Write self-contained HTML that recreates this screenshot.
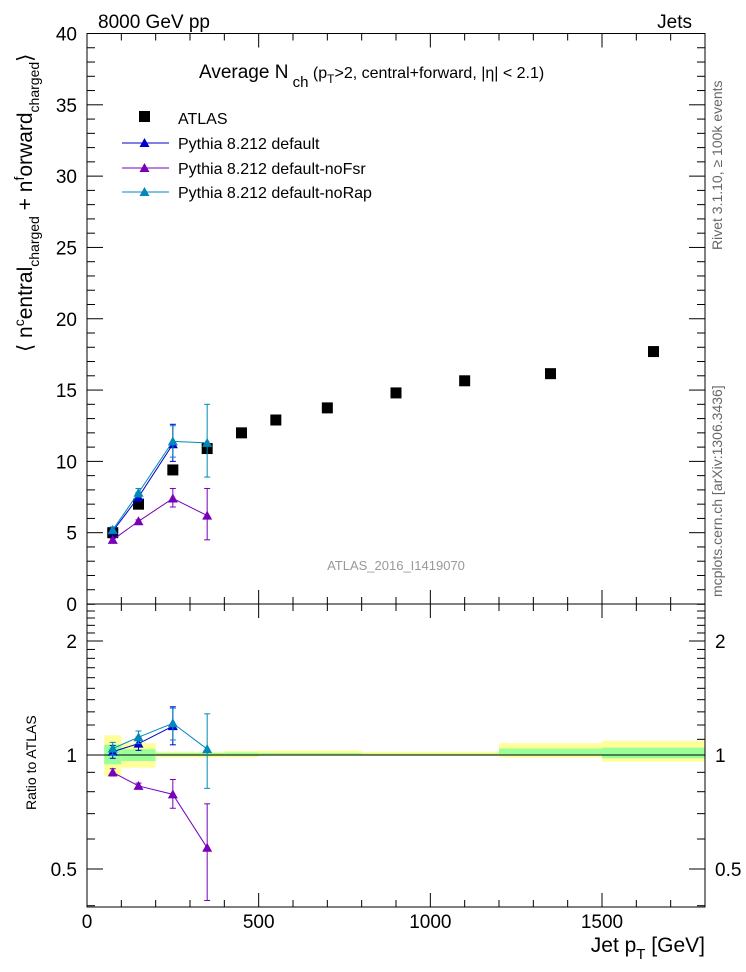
<!DOCTYPE html>
<html><head><meta charset="utf-8"><style>
body{margin:0;background:#fff}
svg{display:block;font-family:"Liberation Sans",sans-serif}
</style></head><body>
<svg id="c" width="746" height="972" viewBox="0 0 746 972">
<defs><clipPath id="cr"><rect x="87" y="604" width="618" height="303"/></clipPath></defs>
<g id="bands" clip-path="url(#cr)"></g>
<g id="grid"></g>
<g id="marks"></g>
<rect x="87" y="33.5" width="618" height="570.5" fill="none" stroke="#000" stroke-width="1"/>
<rect x="87" y="604" width="618" height="303" fill="none" stroke="#000" stroke-width="1"/>
<text x="98" y="28" font-size="19">8000 GeV pp</text>
<text x="692" y="28" font-size="19" text-anchor="end">Jets</text>
<text x="199" y="78" font-size="19">Average N<tspan font-size="15" dy="9"> ch</tspan><tspan font-size="16" dy="-9"> (p</tspan><tspan font-size="12" dy="5">T</tspan><tspan font-size="16" dy="-5">&gt;2, central+forward, |η| &lt; 2.1)</tspan></text>
<text x="396" y="570" font-size="13" fill="#999" text-anchor="middle">ATLAS_2016_I1419070</text>
<text transform="translate(722,250) rotate(-90)" font-size="14" fill="#666">Rivet 3.1.10, ≥ 100k events</text>
<text transform="translate(722,597) rotate(-90)" font-size="14" fill="#666">mcplots.cern.ch [arXiv:1306.3436]</text>
<text transform="translate(32,352) rotate(-90)" font-size="21">⟨ n<tspan font-size="14" dy="-8">c</tspan><tspan dy="8">entral</tspan><tspan font-size="14" dy="7">charged</tspan><tspan dy="-7"> + n</tspan><tspan font-size="14" dy="-8">f</tspan><tspan dy="8">orward</tspan><tspan font-size="14" dy="7">charged</tspan><tspan dy="-7">⟩</tspan></text>
<text transform="translate(36,810) rotate(-90)" font-size="14">Ratio to ATLAS</text>
<text x="705" y="952" font-size="21" text-anchor="end">Jet p<tspan font-size="15" dy="7">T</tspan><tspan dy="-7"> [GeV]</tspan></text>
<g>
<rect x="139" y="111" width="11" height="11" fill="#000"/>
<text x="178" y="124" font-size="16">ATLAS</text>
<line x1="122" y1="143" x2="169" y2="143" stroke="#0000cc"/>
<polygon points="144.5,138 139.5,147 149.5,147" fill="#0000cc"/>
<text x="178" y="149" font-size="16">Pythia 8.212 default</text>
<line x1="122" y1="168" x2="169" y2="168" stroke="#7700bb"/>
<polygon points="144.5,163 139.5,172 149.5,172" fill="#7700bb"/>
<text x="178" y="174" font-size="16">Pythia 8.212 default-noFsr</text>
<line x1="122" y1="192" x2="169" y2="192" stroke="#0088bb"/>
<polygon points="144.5,187 139.5,196 149.5,196" fill="#0088bb"/>
<text x="178" y="198" font-size="16">Pythia 8.212 default-noRap</text>
</g>
</svg>
<script>
const xCenters=[75,150,250,350,450,550,700,900,1100,1350,1650];
const binEdges=[50,100,200,300,400,500,600,800,1000,1200,1500,1800];
const atlas=[5.0,7.0,9.4,10.9,12.0,12.9,13.75,14.8,15.65,16.15,17.7];
const bandYelUp=[1.127,1.075,1.02,1.02,1.025,1.028,1.028,1.02,1.02,1.075,1.09];
const bandYelDn=[0.879,0.926,0.985,0.985,0.985,0.995,0.995,0.995,0.995,0.985,0.96];
const bandGrnUp=[1.064,1.036,1.012,1.012,1.015,1.012,1.012,1.008,1.008,1.04,1.046];
const bandGrnDn=[0.945,0.964,0.995,0.995,0.995,1.0,1.0,1.0,1.0,1.0,0.98];
const defX=[75,150,250];
const defY=[5.1,7.5,11.2];
const defUp=[5.3,7.8,12.6];
const defDn=[4.9,7.2,10.0];
const fsrX=[75,150,250,350];
const fsrY=[4.5,5.8,7.4,6.2];
const fsrUp=[4.6,5.9,8.1,8.1];
const fsrDn=[4.4,5.7,6.8,4.5];
const rapX=[75,150,250,350];
const rapY=[5.2,7.8,11.4,11.3];
const rapUp=[5.4,8.1,12.5,14.0];
const rapDn=[5.0,7.5,10.3,8.9];
const xTicks=[0,500,1000,1500];
const yTicks=[0,5,10,15,20,25,30,35,40];
const rTicks=[0.5,1,2];

const NS="http://www.w3.org/2000/svg";
const X=v=>87+v*(618/1800);
const Y=v=>604-v*(570.5/40);
const R=v=>755-Math.log2(v)*114;
function mk(p,tag,at){const e=document.createElementNS(NS,tag);for(const k in at)e.setAttribute(k,at[k]);p.appendChild(e);return e;}
const G=document.getElementById('grid'),M=document.getElementById('marks'),B=document.getElementById('bands');

for(let i=0;i<xCenters.length;i++){
  const x0=X(binEdges[i]),x1=X(binEdges[i+1]);
  let r=mk(B,'rect',{x:x0,y:R(bandYelUp[i]),width:x1-x0,height:R(bandYelDn[i])-R(bandYelUp[i]),fill:'#ffff99'});
  
  
  r=mk(B,'rect',{x:x0,y:R(bandGrnUp[i]),width:x1-x0,height:R(bandGrnDn[i])-R(bandGrnUp[i]),fill:'#99ff99'});
  
  
}
let ln=mk(B,'line',{x1:87,x2:705,y1:R(1),y2:R(1),stroke:'#000'});



for(let v=0;v<=1800;v+=100){
  const maj=v%500===0,l=maj?14:7,x=X(v);
  mk(G,'line',{x1:x,x2:x,y1:604,y2:604-l,stroke:'#000'});
  mk(G,'line',{x1:x,x2:x,y1:33.5,y2:33.5+l,stroke:'#000'});
  mk(G,'line',{x1:x,x2:x,y1:907,y2:907-l,stroke:'#000'});
  mk(G,'line',{x1:x,x2:x,y1:604,y2:604+l,stroke:'#000'});
}
xTicks.forEach(v=>{const t=mk(G,'text',{x:X(v),y:928,'font-size':19,'text-anchor':'middle'});t.textContent=v;
  
  });
for(let v=0;v<=40;v++){
  const maj=v%5===0,l=maj?16:8,y=Y(v);
  mk(G,'line',{x1:87,x2:87+l,y1:y,y2:y,stroke:'#000'});
  mk(G,'line',{x1:705,x2:705-l,y1:y,y2:y,stroke:'#000'});
}
yTicks.forEach(v=>{const t=mk(G,'text',{x:77,y:Y(v)+7,'font-size':19,'text-anchor':'end'});t.textContent=v;
  
  });
for(let k=4;k<=25;k++){
  const v=k/10,maj=(k===5||k===10||k===20),l=maj?16:8,y=R(v);
  if(y<604||y>907)continue;
  mk(G,'line',{x1:87,x2:87+l,y1:y,y2:y,stroke:'#000'});
  mk(G,'line',{x1:705,x2:705-l,y1:y,y2:y,stroke:'#000'});
}
rTicks.forEach(v=>{let t=mk(G,'text',{x:77,y:R(v)+7,'font-size':19,'text-anchor':'end'});t.textContent=v;
  
  
  t=mk(G,'text',{x:715,y:R(v)+7,'font-size':19});t.textContent=v;
  
  });

function series(xs,ys,up,dn,col,name){
  const g=mk(M,'g',{});
  
  
  const ai=xs.map(x=>xCenters.indexOf(x));
  mk(g,'polyline',{points:xs.map((x,i)=>X(x)+','+Y(ys[i])).join(' '),fill:'none',stroke:col,'stroke-width':1});
  mk(g,'polyline',{points:xs.map((x,i)=>X(x)+','+R(ys[i]/atlas[ai[i]])).join(' '),fill:'none',stroke:col,'stroke-width':1});
  xs.forEach((x,i)=>{
    const a=atlas[ai[i]];
    [[Y(ys[i]),Y(up[i]),Y(dn[i])],[R(ys[i]/a),R(up[i]/a),R(dn[i]/a)]].forEach(([yc,yu,yd])=>{
      const ydc=Math.min(yd,906);
      mk(g,'line',{x1:X(x),x2:X(x),y1:yu,y2:ydc,stroke:col});
      mk(g,'line',{x1:X(x)-3,x2:X(x)+3,y1:yu,y2:yu,stroke:col});
      if(yd<906)mk(g,'line',{x1:X(x)-3,x2:X(x)+3,y1:yd,y2:yd,stroke:col});
      const p=mk(g,'polygon',{points:`${X(x)},${yc-5} ${X(x)-5},${yc+4} ${X(x)+5},${yc+4}`,fill:col});
      
      
    });
  });
}
atlas.forEach((v,i)=>{
  const r=mk(M,'rect',{x:X(xCenters[i])-5.5,y:Y(v)-5.5,width:11,height:11,fill:'#000'});
  
  
});
series(fsrX,fsrY,fsrUp,fsrDn,'#7700bb','nofsr');
series(defX,defY,defUp,defDn,'#0000cc','default');
series(rapX,rapY,rapUp,rapDn,'#0088bb','norap');
</script>
</body></html>
